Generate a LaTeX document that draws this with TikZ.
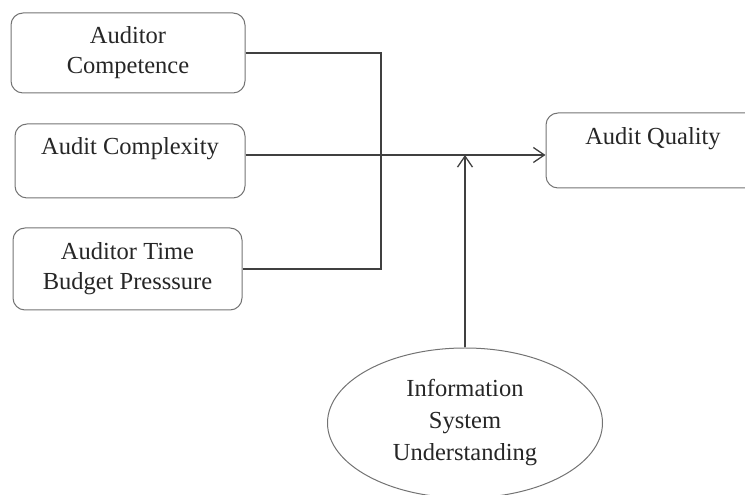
\documentclass[tikz,border=0pt]{standalone}
\usepackage{fontspec}
\setmainfont{Liberation Serif}
\usetikzlibrary{
  arrows.meta, % For arrow tips
  shapes.geometric % For the ellipse
}

\begin{document}
\begin{tikzpicture}[
      x=1pt, y=1pt,
      >={Straight Barb[length=11pt,width=15pt]}, % Default arrow tip
      varbox/.style={draw=black!55, line width=1pt, rounded corners=12pt,
        align=center, text=black!85, inner sep=0pt,
        font=\fontsize{24.5}{30}\selectfont}, % Style for variable boxes
      link/.style={black!75, line width=1.3pt}, % Style for connector lines
    ]
    \useasboundingbox (0,0) rectangle (745,495);
    \clip (0,0) rectangle (745,495);

    % Independent variables
    \node[varbox, minimum width=234pt, minimum height=80pt] (comp) at (128,442)
      {Auditor\\Competence};
    \node[varbox, minimum width=230pt, minimum height=74pt] (cplx) at (130,334)
      {Audit Complexity\\[-10pt]\strut};
    \node[varbox, minimum width=229pt, minimum height=82pt] (tbp) at (127.5,226)
      {Auditor Time\\Budget Presssure};

    % Dependent variable
    \node[varbox, minimum width=214pt, minimum height=75pt] (qual) at (653,344.5)
      {Audit Quality\\[-10pt]\strut};

    % Moderating variable
    \node[varbox, ellipse, rounded corners=0pt, minimum width=275pt,
      minimum height=150pt] (isu) at (465,72)
      {Information\\[2pt]System\\[2pt]Understanding};

    % Koordinaten
    \coordinate (bus) at (381,300);
    \coordinate (flow) at ([yshift=6pt]cplx.east);

    % Connectors
    \draw[link] (comp.east) -| (bus) |- (tbp.east);
    \draw[link, ->] (flow) -- (flow -| qual.west);
    \draw[link, ->] (isu.north) -- (isu.north |- flow);
  \end{tikzpicture}
\end{document}
